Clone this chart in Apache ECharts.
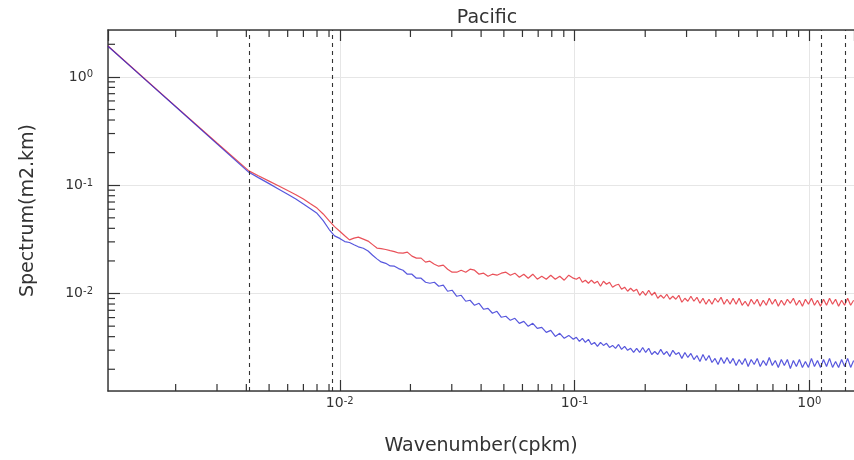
<!DOCTYPE html>
<html>
<head>
<meta charset="utf-8">
<title>Pacific</title>
<script src="https://cdn.jsdelivr.net/npm/echarts@6.0.0/dist/echarts.min.js"></script>
<style>
  html, body { margin: 0; padding: 0; background: #fff; }
  #chart { width: 854px; height: 460px; }
</style>
</head>
<body>
<div id="chart"></div>
<script>
  // wavenumber (cpkm)
  var wavenumber = [
    0.00103, 0.0015, 0.002, 0.003, 0.0041,
    0.0045, 0.005, 0.0055, 0.006, 0.0065, 0.007, 0.0075, 0.008, 0.0085, 0.009,
    0.0095, 0.01, 0.0105, 0.011, 0.0115, 0.012, 0.0126, 0.0132, 0.0138, 0.0144,
    0.015, 0.0157, 0.0164, 0.0171, 0.0178,
    0.0186, 0.0194, 0.0203, 0.0212, 0.0222, 0.0232, 0.0242, 0.0253, 0.0264, 0.0276,
    0.0288, 0.0301, 0.0315, 0.0329, 0.0344, 0.0359, 0.0375, 0.0392, 0.041, 0.0428,
    0.0447, 0.0467, 0.0488, 0.051, 0.0533, 0.0557, 0.0582, 0.0608, 0.0635, 0.0664,
    0.0694, 0.0725, 0.0758, 0.0792, 0.0828, 0.0865, 0.0904, 0.0945, 0.0988,
    0.1018, 0.1049, 0.1080, 0.1112, 0.1146, 0.1180, 0.1216, 0.1252, 0.1290, 0.1328,
    0.1368, 0.1409, 0.1452, 0.1495, 0.1540, 0.1586, 0.1634, 0.1683, 0.1733, 0.1785,
    0.1839, 0.1894, 0.1951, 0.2009, 0.2070, 0.2132, 0.2196, 0.2262, 0.2329, 0.2399,
    0.2471, 0.2545, 0.2622, 0.2700, 0.2781, 0.2865, 0.2951, 0.3039, 0.3130, 0.3224,
    0.3321, 0.3421, 0.3523, 0.3629, 0.3738, 0.3850, 0.3966, 0.4085, 0.4207, 0.4333,
    0.4463, 0.4597, 0.4735, 0.4877, 0.5024, 0.5174, 0.5329, 0.5489, 0.5654, 0.5824,
    0.5998, 0.6178, 0.6364, 0.6555, 0.6751, 0.6954, 0.7163, 0.7377, 0.7599, 0.7827,
    0.8062, 0.8303, 0.8553, 0.8809, 0.9074, 0.9346, 0.9626, 0.9915, 1.0213, 1.0519,
    1.0835, 1.1160, 1.1494, 1.1839, 1.2194, 1.2560, 1.2937, 1.3325, 1.3725, 1.4137,
    1.4561, 1.4998, 1.5448
  ];

  // red spectrum (m2.km)
  var specRed = [
    1.93, 0.93, 0.535, 0.245, 0.1356,
    0.1222, 0.1091, 0.0983, 0.0893, 0.0818, 0.0745, 0.0674, 0.0615, 0.0543, 0.0471,
    0.0415, 0.0376, 0.0342, 0.0313, 0.0325, 0.0332, 0.0318, 0.0305, 0.0283, 0.0263,
    0.0260, 0.0255, 0.0249, 0.0244, 0.0237,
    0.02361, 0.02412, 0.02215, 0.02122, 0.02122, 0.01949, 0.01991, 0.01867, 0.01789, 0.01828,
    0.01678, 0.01575, 0.01575, 0.01643, 0.01575, 0.01678, 0.01643, 0.01509, 0.01542, 0.01446,
    0.01509, 0.01477, 0.01542, 0.01575, 0.01477, 0.01542, 0.01416, 0.01509, 0.01386, 0.01509,
    0.01356, 0.01446, 0.01356, 0.01477, 0.01356, 0.01446, 0.01328, 0.01477, 0.01386,
    0.01356, 0.01416, 0.01272, 0.01328, 0.01245, 0.01328, 0.01245, 0.01300, 0.01168, 0.01300,
    0.01219, 0.01272, 0.01144, 0.01194, 0.01219, 0.01096, 0.01144, 0.01050, 0.01120, 0.01050,
    0.01096, 0.00964, 0.01050, 0.00964, 0.01073, 0.00964, 0.01028, 0.00905, 0.00964, 0.00905,
    0.00985, 0.00886, 0.00944, 0.00886, 0.00964, 0.00831, 0.00905, 0.00849, 0.00944, 0.00849,
    0.00924, 0.00813, 0.00905, 0.00796, 0.00886, 0.00796, 0.00905, 0.00831, 0.00924, 0.00796,
    0.00886, 0.00796, 0.00905, 0.00796, 0.00905, 0.00779, 0.00849, 0.00763, 0.00886, 0.00796,
    0.00886, 0.00763, 0.00867, 0.00779, 0.00905, 0.00796, 0.00886, 0.00763, 0.00867, 0.00779,
    0.00886, 0.00813, 0.00905, 0.00779, 0.00867, 0.00763, 0.00886, 0.00796, 0.00905, 0.00779,
    0.00867, 0.00763, 0.00886, 0.00779, 0.00905, 0.00796, 0.00886, 0.00763, 0.00867, 0.00779,
    0.00905, 0.00779, 0.00867
  ];

  // blue spectrum (m2.km)
  var specBlue = [
    1.92, 0.924, 0.53, 0.241, 0.1315,
    0.1175, 0.1035, 0.0920, 0.0825, 0.0745, 0.0672, 0.0607, 0.0550, 0.0472, 0.0392,
    0.0341, 0.0323, 0.0302, 0.0296, 0.0282, 0.0270, 0.0262, 0.0247, 0.0226, 0.0209,
    0.0196, 0.0190, 0.0180, 0.0179, 0.0170,
    0.01643, 0.01509, 0.01509, 0.01386, 0.01386, 0.01272, 0.01245, 0.01272, 0.01168, 0.01194,
    0.01050, 0.01073, 0.00944, 0.00964, 0.00849, 0.00867, 0.00779, 0.00813, 0.00716, 0.00731,
    0.00658, 0.00686, 0.00604, 0.00617, 0.00566, 0.00591, 0.00531, 0.00554, 0.00498, 0.00531,
    0.00477, 0.00488, 0.00438, 0.00457, 0.00402, 0.00429, 0.00386, 0.00411, 0.00378,
    0.00394, 0.00362, 0.00386, 0.00354, 0.00378, 0.00339, 0.00354, 0.00325, 0.00354, 0.00332,
    0.00347, 0.00318, 0.00332, 0.00312, 0.00339, 0.00305, 0.00325, 0.00299, 0.00312, 0.00286,
    0.00312, 0.00286, 0.00318, 0.00286, 0.00312, 0.00274, 0.00292, 0.00274, 0.00305, 0.00274,
    0.00292, 0.00263, 0.00299, 0.00274, 0.00286, 0.00252, 0.00286, 0.00257, 0.00280, 0.00246,
    0.00268, 0.00236, 0.00274, 0.00241, 0.00268, 0.00231, 0.00252, 0.00221, 0.00257, 0.00226,
    0.00257, 0.00226, 0.00252, 0.00217, 0.00246, 0.00221, 0.00252, 0.00212, 0.00246, 0.00221,
    0.00252, 0.00212, 0.00241, 0.00217, 0.00257, 0.00217, 0.00241, 0.00208, 0.00246, 0.00217,
    0.00246, 0.00203, 0.00241, 0.00212, 0.00246, 0.00208, 0.00236, 0.00208, 0.00252, 0.00212,
    0.00241, 0.00208, 0.00246, 0.00212, 0.00252, 0.00208, 0.00236, 0.00208, 0.00246, 0.00212,
    0.00252, 0.00208, 0.00241
  ];

  // dashed vertical markers (cpkm)
  var cutoffs = [0.0041, 0.00925, 1.12, 1.42];

  // minor tick mantissas per decade
  var decades = [0.001, 0.01, 0.1, 1];
  var mantissa = [2, 3, 4, 5, 6, 7, 8, 9];

  var xMin = 0.00103, xMax = 1.55;
  var yMin = 0.00126, yMax = 2.71;

  var font = 'DejaVu Sans';
  var ink = '#333';

  var minorX = [], minorY = [];
  decades.forEach(function (d) {
    mantissa.forEach(function (m) {
      var v = +(d * m).toPrecision(3);
      if (v > xMin && v < xMax) minorX.push([v, 0.01]);
      if (v > yMin && v < yMax) minorY.push([0.01, v]);
    });
  });

  function powLabel(v) {
    var e = Math.log10(v), r = Math.round(e);
    if (Math.abs(e - r) > 1e-6) return '';
    return '{b|10}{s|' + r + '}';
  }

  var labelRich = {
    b: { fontSize: 14, lineHeight: 14, verticalAlign: 'bottom', color: ink, fontFamily: font },
    s: { fontSize: 10, lineHeight: 10, padding: [0, 0, 11, 0], verticalAlign: 'top', color: ink, fontFamily: font }
  };

  function renderMinorX(params, api) {
    var cs = params.coordSys;
    var px = api.coord([api.value(0), api.value(1)])[0];
    var st = { stroke: ink, lineWidth: 1.2 };
    return {
      type: 'group',
      children: [
        { type: 'line', shape: { x1: px, y1: cs.y + cs.height, x2: px, y2: cs.y + cs.height - 7 }, style: st },
        { type: 'line', shape: { x1: px, y1: cs.y, x2: px, y2: cs.y + 7 }, style: st }
      ]
    };
  }

  function renderMinorY(params, api) {
    var cs = params.coordSys;
    var py = api.coord([api.value(0), api.value(1)])[1];
    return {
      type: 'line',
      shape: { x1: cs.x, y1: py, x2: cs.x + 7, y2: py },
      style: { stroke: ink, lineWidth: 1.2 }
    };
  }

  var myChart = echarts.init(document.getElementById('chart'));
  var option = {
    animation: false,
    backgroundColor: '#fff',
    title: {
      text: 'Pacific',
      left: 482,
      top: 4,
      textAlign: 'center',
      textStyle: { fontSize: 19, fontWeight: 'normal', color: ink, fontFamily: font }
    },
    grid: {
      left: 108,
      top: 30,
      right: 0,
      bottom: 69,
      containLabel: false,
      outerBoundsMode: 'none'
    },
    xAxis: [
      {
        type: 'log',
        logBase: 10,
        min: xMin,
        max: xMax,
        position: 'bottom',
        name: 'Wavenumber(cpkm)',
        nameLocation: 'middle',
        nameGap: 46,
        nameTextStyle: { fontSize: 19, color: ink, fontFamily: font },
        axisLine: { lineStyle: { color: '#3a3a3a', width: 1.5 } },
        axisTick: { inside: true, length: 11, lineStyle: { color: ink, width: 1.2 } },
        axisLabel: {
          margin: 5,
          showMinLabel: false,
          showMaxLabel: false,
          formatter: powLabel,
          rich: labelRich
        },
        splitLine: { show: true, lineStyle: { color: '#e6e6e6', width: 1 } }
      },
      {
        type: 'log',
        logBase: 10,
        min: xMin,
        max: xMax,
        position: 'top',
        axisLine: { lineStyle: { color: '#3a3a3a', width: 1.5 } },
        axisTick: { inside: true, length: 11, lineStyle: { color: ink, width: 1.2 } },
        axisLabel: { show: false },
        splitLine: { show: false }
      }
    ],
    yAxis: {
      type: 'log',
      logBase: 10,
      min: yMin,
      max: yMax,
      name: 'Spectrum(m2.km)',
      nameLocation: 'middle',
      nameRotate: 90,
      nameGap: 70,
      nameTextStyle: { fontSize: 19, color: ink, fontFamily: font },
      axisLine: { show: true, lineStyle: { color: '#3a3a3a', width: 1.5 } },
      axisTick: { show: true, inside: true, length: 12, lineStyle: { color: ink, width: 1.2 } },
      axisLabel: {
        margin: 15,
        showMinLabel: false,
        showMaxLabel: false,
        formatter: powLabel,
        rich: labelRich
      },
      splitLine: { show: true, lineStyle: { color: '#e6e6e6', width: 1 } }
    },
    series: [
      {
        name: 'red',
        type: 'line',
        showSymbol: false,
        symbol: 'none',
        lineStyle: { color: '#e3262f', width: 1.2, opacity: 0.8 },
        data: wavenumber.map(function (x, i) { return [x, specRed[i]]; }),
        markLine: {
          silent: true,
          precision: 6,
          symbol: ['none', 'none'],
          label: { show: false },
          lineStyle: { color: '#333', type: [4, 4], width: 1.1 },
          data: cutoffs.map(function (c) { return { xAxis: c }; })
        }
      },
      {
        name: 'blue',
        type: 'line',
        showSymbol: false,
        symbol: 'none',
        lineStyle: { color: '#1f1fd2', width: 1.2, opacity: 0.75 },
        data: wavenumber.map(function (x, i) { return [x, specBlue[i]]; })
      },
      {
        type: 'custom',
        silent: true,
        renderItem: renderMinorX,
        data: minorX
      },
      {
        type: 'custom',
        silent: true,
        renderItem: renderMinorY,
        data: minorY
      }
    ]
  };

  myChart.setOption(option);
</script>
</body>
</html>
